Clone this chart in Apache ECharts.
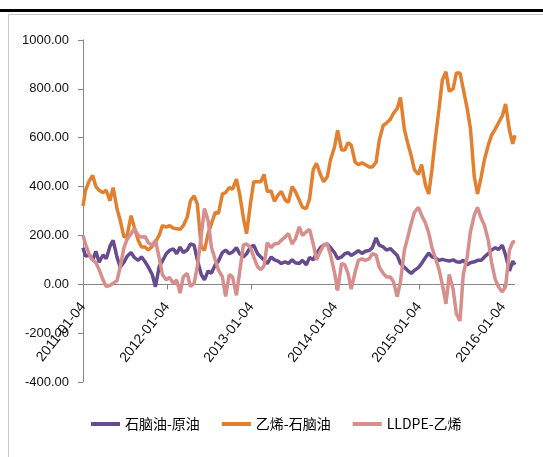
<!DOCTYPE html>
<html>
<head>
<meta charset="utf-8">
<script src="https://cdn.jsdelivr.net/npm/echarts@6/dist/echarts.min.js"></script>
<style>
  html, body { margin: 0; padding: 0; background: #fff; }
  #chart { width: 543px; height: 457px; }
</style>
</head>
<body>
<div id="chart"></div>
<script>
// Sample dates (twice a month) shared by all three spreads
const dates = [
  '2011-01-04','2011-01-15','2011-02-01','2011-02-15','2011-03-01','2011-03-15','2011-04-01','2011-04-15','2011-05-01','2011-05-15','2011-06-01','2011-06-15',
  '2011-07-01','2011-07-15','2011-08-01','2011-08-15','2011-09-01','2011-09-15','2011-10-01','2011-10-15','2011-11-01','2011-11-15','2011-12-01','2011-12-15',
  '2012-01-01','2012-01-15','2012-02-01','2012-02-15','2012-03-01','2012-03-15','2012-04-01','2012-04-15','2012-05-01','2012-05-15','2012-06-01','2012-06-15',
  '2012-07-01','2012-07-15','2012-08-01','2012-08-15','2012-09-01','2012-09-15','2012-10-01','2012-10-15','2012-11-01','2012-11-15','2012-12-01','2012-12-15',
  '2013-01-01','2013-01-15','2013-02-01','2013-02-15','2013-03-01','2013-03-15','2013-04-01','2013-04-15','2013-05-01','2013-05-15','2013-06-01','2013-06-15',
  '2013-07-01','2013-07-15','2013-08-01','2013-08-15','2013-09-01','2013-09-15','2013-10-01','2013-10-15','2013-11-01','2013-11-15','2013-12-01','2013-12-15',
  '2014-01-01','2014-01-15','2014-02-01','2014-02-15','2014-03-01','2014-03-15','2014-04-01','2014-04-15','2014-05-01','2014-05-15','2014-06-01','2014-06-15',
  '2014-07-01','2014-07-15','2014-08-01','2014-08-15','2014-09-01','2014-09-15','2014-10-01','2014-10-15','2014-11-01','2014-11-15','2014-12-01','2014-12-15',
  '2015-01-01','2015-01-15','2015-02-01','2015-02-15','2015-03-01','2015-03-15','2015-04-01','2015-04-15','2015-05-01','2015-05-15','2015-06-01','2015-06-15',
  '2015-07-01','2015-07-15','2015-08-01','2015-08-15','2015-09-01','2015-09-15','2015-10-01','2015-10-15','2015-11-01','2015-11-15','2015-12-01','2015-12-15',
  '2016-01-01','2016-01-15','2016-02-01','2016-02-15','2016-02-25'
];

// 石脑油-原油
const naphthaCrude = [
  150,115, 120,100, 135,90, 120,105, 155,180, 110,70, 90,115, 130,110, 98,112, 92,70, 40,-10, 72,95,
  125,139, 145,125, 152,130, 140,165, 160,100, 40,18, 55,45, 80,95, 130,140, 125,132, 150,125, 112,125,
  152,160, 125,112, 99,85, 112,100, 95,85, 92,85, 100,88, 85,98, 80,110, 100,126, 150,160, 165,150,
  130,105, 112,125, 130,118, 128,138, 126,135, 138,150, 190,160, 153,140, 146,133, 118,85, 70,57, 44,57,
  68,85, 110,128, 112,108, 98,102, 98,95, 100,92, 90,98, 80,88, 92,98, 98,112, 126,140, 150,142,
  160,120, 55,95, 80
];

// 乙烯-石脑油
const ethyleneNaphtha = [
  320,385, 425,445, 400,385, 375,385, 342,396, 308,261, 193,200, 281,234, 180,153, 153,140, 155,173, 200,240,
  234,240, 230,227, 225,240, 274,342, 362,328, 153,139, 207,247, 295,290, 369,376, 396,389, 430,369, 274,207,
  330,420, 420,420, 450,380, 382,340, 365,380, 345,335, 400,380, 345,315, 310,350, 470,495, 450,420, 440,510,
  560,630, 550,550, 580,570, 500,490, 497,490, 480,480, 500,590, 650,660, 675,700, 720,765, 635,580, 525,468,
  450,490, 405,370, 470,590, 720,835, 870,790, 800,865, 865,800, 720,640, 440,370, 440,510, 570,610, 635,660,
  690,738, 630,575, 610
];

// LLDPE-乙烯
const lldpeEthylene = [
  200,165, 120,100, 88,60, 18,-9, -5,4, 15,72, 150,185, 207,227, 200,193, 195,170, 160,180, 110,40,
  18,28, 4,18, -36,30, 45,-9, 4,72, 200,310, 261,153, 99,58, 30,-50, 40,30, -45,50, 160,165,
  150,112, 71,60, 75,170, 150,165, 167,180, 194,208, 165,185, 235,200, 215,225, 165,100, 135,160, 165,120,
  50,-25, 85,80, 45,-20, 50,98, 104,98, 104,125, 120,70, 45,30, 30,10, -50,10, 139,190, 250,295,
  315,283, 250,210, 150,110, 60,0, -80,40, -20,-120, -150,40, 110,214, 283,315, 270,242, 180,90, 20,-10,
  -31,-10, 140,173, 175
];

const tickDates = ['2011-01-04','2012-01-04','2013-01-04','2014-01-04','2015-01-04','2016-01-04'];
const seriesNames = ['石脑油-原油', '乙烯-石脑油', 'LLDPE-乙烯'];
const seriesColors = ['#664b8e', '#e3802f', '#d68f8d'];
const yMin = -400, yMax = 1000, yStep = 200;

// local-time timestamp from 'YYYY-MM-DD'
function ts(s) {
  const p = s.split('-').map(Number);
  return new Date(p[0], p[1] - 1, p[2]).getTime();
}
function pad(n) { return (n < 10 ? '0' : '') + n; }
function fmtDate(v) {
  const d = new Date(v);
  return d.getFullYear() + '-' + pad(d.getMonth() + 1) + '-' + pad(d.getDate());
}

const tickTs = tickDates.map(ts);
const xMin = ts(dates[0]), xMax = ts(dates[dates.length - 1]);
const allSeries = [naphthaCrude, ethyleneNaphtha, lldpeEthylene];
const latinFont = "'Liberation Sans', Arial, sans-serif";
const cjkFont = "'Noto Sans CJK SC', 'Liberation Sans', sans-serif";
const axisGray = '#868686';

// plot box
const chartW = 543, chartH = 457;
const gridLeft = 83, gridRight = 28, gridTop = 40, gridBottom = 75;
const plotW = chartW - gridLeft - gridRight;
const plotH = chartH - gridTop - gridBottom;
// shift the date axis up so its labels hang from the zero line
const zeroOffset = -plotH * (0 - yMin) / (yMax - yMin);

// page frame: rule across the top and a light box around the chart
const frame = [
  { type: 'rect', shape: { x: 8.5, y: 14.5, width: 560, height: 460 },
    style: { fill: 'none', stroke: '#c8c8c8', lineWidth: 1 }, silent: true, z: -1 },
  { type: 'rect', shape: { x: 0, y: 9, width: 543, height: 3 },
    style: { fill: '#000000' }, silent: true }
];

const chart = echarts.init(document.getElementById('chart'), null, { renderer: 'canvas' });
chart.setOption({
  animation: false,
  backgroundColor: '#ffffff',
  graphic: frame,
  grid: { left: gridLeft, right: gridRight, top: gridTop, bottom: gridBottom },
  legend: {
    left: 86,
    top: 412,
    icon: 'rect',
    itemWidth: 29,
    itemHeight: 4,
    itemGap: 22,
    textStyle: { fontFamily: cjkFont, fontSize: 14, color: '#000' },
    data: seriesNames
  },
  xAxis: {
    type: 'value',
    position: 'bottom',
    offset: zeroOffset,
    min: xMin,
    max: xMax,
    axisLine: { show: false, onZero: false },
    axisTick: { show: false },
    axisLabel: {
      customValues: tickTs,
      rotate: 52,
      margin: 20,
      fontFamily: latinFont,
      fontSize: 14,
      color: '#111',
      formatter: v => fmtDate(v)
    },
    splitLine: { show: false }
  },
  yAxis: {
    type: 'value',
    min: yMin,
    max: yMax,
    interval: yStep,
    axisLine: { show: true, onZero: false, lineStyle: { color: axisGray, width: 1 } },
    axisTick: { show: true, length: 5, lineStyle: { color: axisGray } },
    axisLabel: {
      margin: 14,
      fontFamily: latinFont,
      fontSize: 13,
      color: '#111',
      formatter: v => v.toFixed(2)
    },
    splitLine: { show: false }
  },
  series: seriesNames.map((name, k) => ({
    name: name,
    type: 'line',
    showSymbol: false,
    symbol: 'none',
    color: seriesColors[k],
    lineStyle: { width: 3.5, color: seriesColors[k] },
    data: dates.map((d, i) => [ts(d), allSeries[k][i]])
  }))
});

// date axis line along zero, with year ticks; positions come from the chart's
// own scales, with the grid box as a fallback
function toPx(p) {
  let r = null;
  try { r = chart.convertToPixel({ xAxisIndex: 0, yAxisIndex: 0 }, p); } catch (e) { r = null; }
  if (!r || !isFinite(r[0]) || !isFinite(r[1])) {
    r = [gridLeft + plotW * (p[0] - xMin) / (xMax - xMin),
         gridTop + plotH * (yMax - p[1]) / (yMax - yMin)];
  }
  return r;
}
const zL = toPx([xMin, 0]), zR = toPx([xMax, 0]);
const zy = Math.round(zL[1]) + 0.5;
const axisMarks = [
  { type: 'line', silent: true, z: 1,
    shape: { x1: zL[0], y1: zy, x2: zR[0], y2: zy },
    style: { stroke: axisGray, lineWidth: 1.2 } }
].concat(tickTs.map(t => {
  const x = Math.round(toPx([t, 0])[0]) + 0.5;
  return { type: 'line', silent: true, z: 1,
    shape: { x1: x, y1: zy, x2: x, y2: zy + 5 },
    style: { stroke: axisGray, lineWidth: 1 } };
}));
chart.setOption({ graphic: frame.concat(axisMarks) });
</script>
</body>
</html>
